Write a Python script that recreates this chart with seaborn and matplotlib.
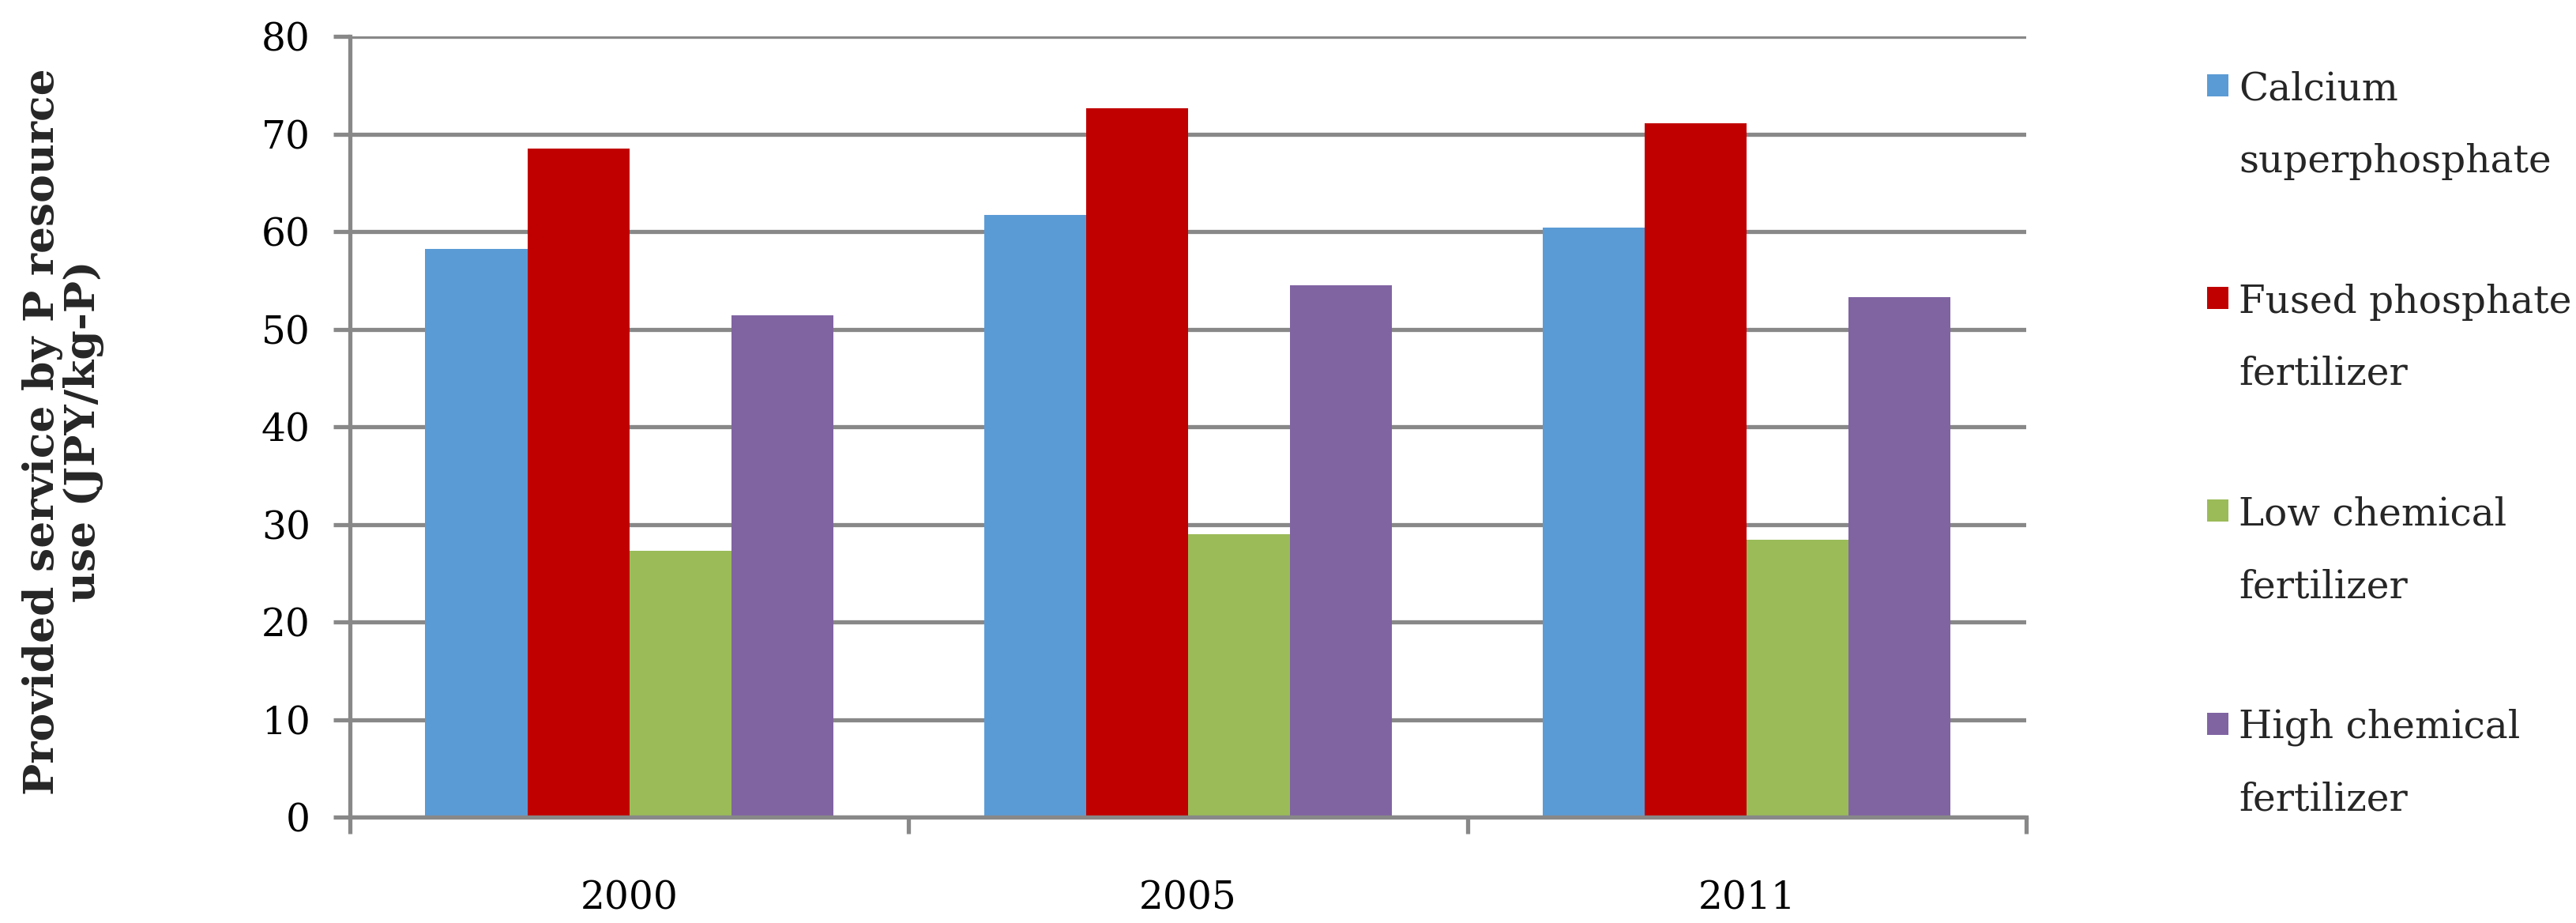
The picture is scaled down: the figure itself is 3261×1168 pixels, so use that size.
import matplotlib
matplotlib.use("Agg")
import matplotlib.pyplot as plt
import matplotlib.patches as mpatches
from matplotlib.legend_handler import HandlerBase
import seaborn as sns
import pandas as pd
import numpy as np

# ---- data ----
years = ["2000", "2005", "2011"]
fertilizers = ["Calcium\nsuperphosphate", "Fused phosphate\nfertilizer",
               "Low chemical\nfertilizer", "High chemical\nfertilizer"]
calcium = [58.2, 61.7, 60.4]
fused = [68.5, 72.6, 71.1]
low_chem = [27.3, 29.0, 28.4]
high_chem = [51.4, 54.5, 53.3]
colors = ["#5B9BD5", "#C00000", "#9BBB59", "#8064A2"]
yticks = [0, 10, 20, 30, 40, 50, 60, 70, 80]
ylabel = "Provided service by P resource\nuse (JPY/kg-P)"

df = pd.DataFrame({
    "year": years * 4,
    "fert": np.repeat(fertilizers, len(years)),
    "value": calcium + fused + low_chem + high_chem,
})

sns.set_theme(style="white")
plt.rcParams["font.family"] = ["DejaVu Serif"]

GRAY = "#888888"
LW = 3.8
FS = 35

fig = plt.figure(figsize=(32.62, 11.68), dpi=100)
ax = fig.add_axes([0.1358, 0.1147, 0.6505, 0.8459])

sns.barplot(data=df, x="year", y="value", hue="fert", order=years,
            hue_order=fertilizers, palette=colors, width=0.73,
            saturation=1, edgecolor="none", linewidth=0, ax=ax, legend=False)

ax.set_xlim(-0.5, 2.5)
ax.set_ylim(0, 80)
ax.set_yticks(yticks)
ax.set_axisbelow(True)
ax.yaxis.grid(True, color=GRAY, lw=LW)
ax.xaxis.grid(False)
for s in ["top", "right"]:
    ax.spines[s].set_visible(False)
for s in ["left", "bottom"]:
    ax.spines[s].set_color(GRAY)
    ax.spines[s].set_linewidth(LW)

ax.tick_params(axis="y", which="major", direction="out", length=15, width=LW,
               color=GRAY, pad=21, labelsize=FS, labelcolor="black", left=True)
ax.set_xticks([0, 1, 2])
ax.set_xticklabels(years)
ax.set_xticks([-0.5, 0.5, 1.5, 2.5], minor=True)
ax.tick_params(axis="x", which="major", length=0, pad=57, labelsize=FS,
               labelcolor="black")
ax.tick_params(axis="x", which="minor", direction="out", length=15, width=LW,
               color=GRAY, bottom=True)
ax.set_xlabel("")
ax.set_ylabel("")

fig.text(0.0245, 0.5325, ylabel, rotation=90, ha="center", va="center",
         fontweight="bold", fontsize=38.5, linespacing=1.0, multialignment="center")

LS = 2.2


class FirstLineHandler(HandlerBase):
    def create_artists(self, legend, orig_handle, xdescent, ydescent,
                       width, height, fontsize, trans):
        shift = 0.5 * LS * fontsize * 0.97
        r = mpatches.Rectangle((-xdescent, -ydescent + shift), width, height,
                               facecolor=orig_handle.get_facecolor(),
                               edgecolor="none", transform=trans)
        return [r]


handles = [mpatches.Patch(facecolor=c, edgecolor="none") for c in colors]
leg = fig.legend(handles, fertilizers, loc="upper left",
                 bbox_to_anchor=(0.8565, 0.9235), frameon=False, fontsize=FS,
                 handlelength=0.55, handleheight=0.51, handletextpad=0.27,
                 labelspacing=2.69, borderaxespad=0, borderpad=0,
                 handler_map={mpatches.Patch: FirstLineHandler()})
for t in leg.get_texts():
    t.set_linespacing(LS)

fig.savefig("out.png", dpi=100)
